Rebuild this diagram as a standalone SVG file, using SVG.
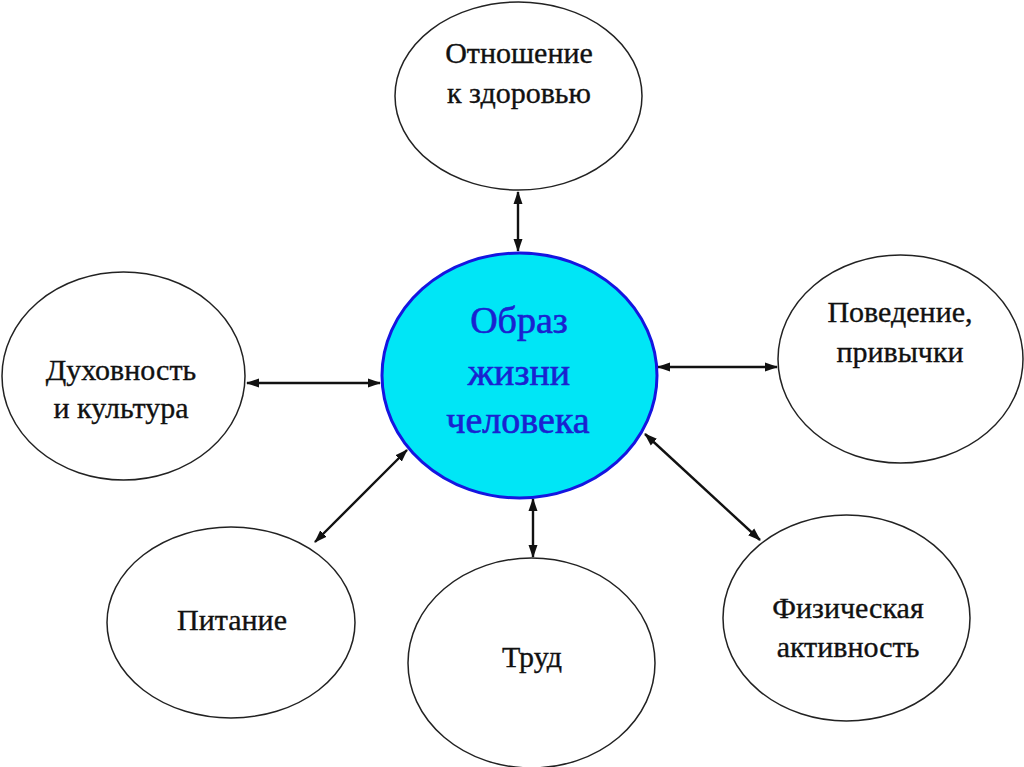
<svg xmlns="http://www.w3.org/2000/svg" width="1024" height="767" viewBox="0 0 1024 767">
<style>
.node{fill:#fff;stroke:#222;stroke-width:1.5}
.lbl{font-family:"Liberation Serif","Times New Roman",serif;font-size:30px;fill:#111;stroke:#111;stroke-width:0.35;text-anchor:middle}
.ctr{font-family:"Liberation Serif","Times New Roman",serif;font-size:38px;fill:#1a22d0;stroke:#1a22d0;stroke-width:0.6;text-anchor:middle}
.conn line{stroke:#111;stroke-width:2.4;marker-start:url(#ah);marker-end:url(#ah)}
</style>
<defs>
<marker id="ah" viewBox="0 0 13 10" refX="12" refY="5" markerWidth="13" markerHeight="10" markerUnits="userSpaceOnUse" orient="auto-start-reverse">
<path d="M0,0.5 L13,5 L0,9.5 Z" fill="#111"/>
</marker>
</defs>
<rect width="1024" height="767" fill="#fff"/>
<g id="connectors" class="conn">
<line x1="518" y1="192" x2="518" y2="251"/>
<line x1="247" y1="383" x2="380" y2="383"/>
<line x1="658" y1="367" x2="777" y2="367"/>
<line x1="315" y1="542" x2="407" y2="450"/>
<line x1="533" y1="499" x2="533" y2="557"/>
<line x1="645" y1="434" x2="760" y2="540"/>
</g>
<g id="center">
<ellipse cx="519.5" cy="375.5" rx="137.5" ry="122.5" fill="#00e6f6" stroke="#1515e0" stroke-width="3"/>
<text class="ctr" x="519" y="333">Образ</text>
<text class="ctr" x="519" y="385">жизни</text>
<text class="ctr" x="518" y="433">человека</text>
</g>
<g id="health">
<ellipse class="node" cx="518.5" cy="96" rx="123.5" ry="94"/>
<text class="lbl" x="519" y="63">Отношение</text>
<text class="lbl" x="519" y="103">к здоровью</text>
</g>
<g id="spirit">
<ellipse class="node" cx="123.5" cy="376" rx="121.5" ry="104"/>
<text class="lbl" x="121" y="380">Духовность</text>
<text class="lbl" x="121" y="418">и культура</text>
</g>
<g id="behavior">
<ellipse class="node" cx="900.5" cy="359" rx="122.5" ry="104"/>
<text class="lbl" x="900" y="322">Поведение,</text>
<text class="lbl" x="900" y="362">привычки</text>
</g>
<g id="food">
<ellipse class="node" cx="231" cy="622.5" rx="124" ry="95.5"/>
<text class="lbl" x="232" y="630">Питание</text>
</g>
<g id="labor">
<ellipse class="node" cx="531.5" cy="663" rx="123.5" ry="105"/>
<text class="lbl" x="532" y="667">Труд</text>
</g>
<g id="activity">
<ellipse class="node" cx="846.5" cy="618" rx="123.5" ry="103"/>
<text class="lbl" x="848" y="618">Физическая</text>
<text class="lbl" x="848" y="657">активность</text>
</g>
</svg>
